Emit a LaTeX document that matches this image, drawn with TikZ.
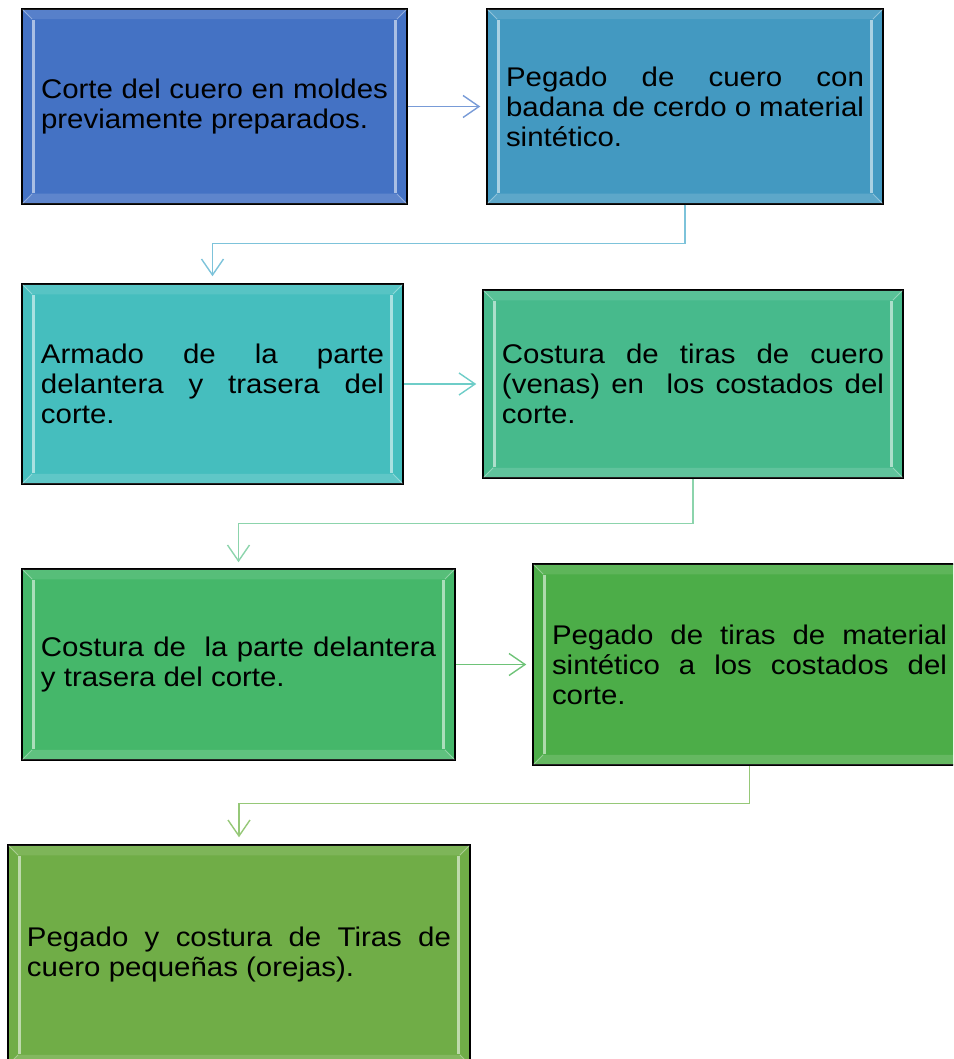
\documentclass[tikz,border=0pt]{standalone}
\usepackage{fontspec}
\setmainfont{Liberation Sans}
\usepackage{graphicx}
\usetikzlibrary{arrows.meta}
\definecolor{c1}{HTML}{4472C4}
\definecolor{c2}{HTML}{4399C1}
\definecolor{c3}{HTML}{45BEBE}
\definecolor{c4}{HTML}{47BA8C}
\definecolor{c5}{HTML}{45B76A}
\definecolor{c6}{HTML}{4CAD48}
\definecolor{c7}{HTML}{70AD47}
\definecolor{a1}{RGB}{120,155,215}
\definecolor{a2}{RGB}{125,195,218}
\definecolor{a3}{RGB}{110,205,200}
\definecolor{a4}{RGB}{140,212,172}
\definecolor{a5}{RGB}{110,195,120}
\definecolor{a6}{RGB}{150,200,120}
\newcommand\bx[2]{\scalebox{1.09}[1]{\parbox{#1pt}{\fontsize{27}{30}\selectfont #2}}}
\newcommand\bevel[1]{%
  \fill[white,opacity=0.10] ([shift={(1,1)}]#1.north west) -- ([shift={(-1,1)}]#1.north east) -- ([shift={(-12,11)}]#1.north east) -- ([shift={(12,11)}]#1.north west) -- cycle;
  \fill[white,opacity=0.14] ([shift={(1,-1)}]#1.south west) -- ([shift={(-1,-1)}]#1.south east) -- ([shift={(-12,-11)}]#1.south east) -- ([shift={(12,-11)}]#1.south west) -- cycle;
  \draw[white,opacity=0.55,line width=3pt] ([shift={(12,12)}]#1.north west) -- ([shift={(12,-12)}]#1.south west);
  \draw[white,opacity=0.55,line width=3pt] ([shift={(-12,12)}]#1.north east) -- ([shift={(-12,-12)}]#1.south east);
  \draw[white,opacity=0.4,line width=1pt] ([shift={(1.5,1.5)}]#1.north west) -- ([shift={(11,11)}]#1.north west)
    ([shift={(-1.5,1.5)}]#1.north east) -- ([shift={(-11,11)}]#1.north east)
    ([shift={(1.5,-1.5)}]#1.south west) -- ([shift={(11,-11)}]#1.south west)
    ([shift={(-1.5,-1.5)}]#1.south east) -- ([shift={(-11,-11)}]#1.south east);
}
\tikzset{
  stepbox/.style={draw=black, line width=1.5pt, fill=#1, inner sep=0pt},
  conn/.style={draw=#1, line width=1.4pt, -{Straight Barb[length=16pt,width=22pt,line width=1.4pt]}},
}
\begin{document}
\begin{tikzpicture}[x=1pt,y=-1pt]
\useasboundingbox (0,0) rectangle (953,1059);
\clip (0,0) rectangle (953,1059);
\node[stepbox=c1, minimum width=385pt, minimum height=195pt] (b1) at (214.5,106.5)
  {\bx{318.3}{Corte del cuero en moldes\linebreak previamente preparados.}};
\node[stepbox=c2, minimum width=396pt, minimum height=195pt] (b2) at (685,106.5)
  {\bx{328.4}{Pegado de cuero con\linebreak badana de cerdo o material\linebreak sintético.}};
\node[stepbox=c3, minimum width=381pt, minimum height=200pt] (b3) at (212.5,384)
  {\bx{314.7}{Armado de la parte\linebreak delantera y trasera del\linebreak corte.}};
\node[stepbox=c4, minimum width=420pt, minimum height=188pt] (b4) at (693,384)
  {\bx{350.5}{Costura de tiras de cuero\linebreak (venas) en\ \ los costados del\linebreak corte.}};
\node[stepbox=c5, minimum width=433pt, minimum height=191pt] (b5) at (238.5,664.5)
  {\bx{362.4}{Costura de\ \ la parte delantera\linebreak y trasera del corte.}};
\node[stepbox=c6, minimum width=433pt, minimum height=201pt] (b6) at (749.5,664.5)
  {\bx{362.4}{Pegado de tiras de material\linebreak sintético a los costados del\linebreak corte.}};
\node[stepbox=c7, minimum width=462pt, minimum height=220pt] (b7) at (239,955)
  {\bx{389}{Pegado y costura de Tiras de\linebreak cuero pequeñas (orejas).}};
\foreach \n in {b1,b2,b3,b4,b5,b6,b7} {\bevel{\n}}
\draw[conn=a1, shorten >=6pt] (b1.east) -- (b2.west);
\draw[conn=a2, shorten >=7pt] (b2.south) -- ++(0,39) -| (b3.north);
\draw[conn=a3, shorten >=6pt] (b3.east) -- (b4.west);
\draw[conn=a4, shorten >=6pt] (b4.south) -- ++(0,45) -| (b5.north);
\draw[conn=a5, shorten >=6pt] (b5.east) -- (b6.west);
\draw[conn=a6, shorten >=7pt] (b6.south) -- ++(0,38) -| (b7.north);
\end{tikzpicture}
\end{document}
